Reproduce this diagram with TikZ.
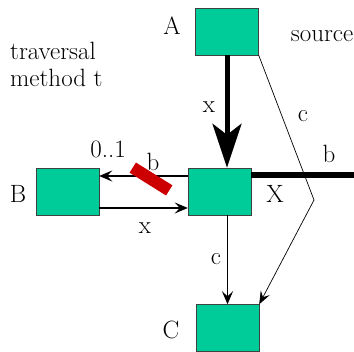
\documentclass[tikz,border=0pt]{standalone}
\usetikzlibrary{arrows.meta,calc}
\definecolor{boxgreen}{RGB}{0,204,153}
\definecolor{cutred}{RGB}{204,0,0}
\tikzset{
  box/.style={draw=black!75,fill=boxgreen,minimum width=63pt,minimum height=47pt,inner sep=0pt},
  cutbar/.style={fill=cutred,minimum width=43pt,minimum height=12pt,inner sep=0pt},
  edge/.style={-{Stealth[length=13pt,width=11pt,inset=5pt]},line width=1.7pt},
  bigedge/.style={-{Stealth[length=44pt,width=29pt,inset=11pt]},line width=5pt},
  bedge/.style={line width=6.5pt},
  cedge/.style={-{Stealth[length=13pt,width=10pt,inset=5pt]},line width=0.7pt},
  lbl/.style={inner sep=0pt},
  every node/.style={font=\fontsize{25}{27}\selectfont}
}
\begin{document}
\begin{tikzpicture}[x=1pt,y=-1pt]
\useasboundingbox (0,0) rectangle (354,352);
% classes
\node[box] (A) at (227,31.5) {};
\node[box] (X) at (219.5,191.5) {};
\node[box] (B) at (67.5,191.5) {};
\node[box] (C) at (227.5,328) {};
\node[lbl] (Alab) at (172,26) {A};
\node[lbl] (Xlab) at (275,194) {X};
\node[lbl] (Blab) at (18,194) {B};
\node[lbl] (Clab) at (171,330) {C};
\node[lbl] (src) at (322,36) {source};
\node[lbl,anchor=west,align=left] (title) at (10,64) {traversal\\method t};
% x from A to X
\draw[bigedge] (A.south) -- (A.south |- X.north);
\node[lbl] (xa) at (209,107) {x};
% b to the right
\coordinate (bend) at (354,175);
\draw[bedge] ([yshift=16.5pt]X.east) -- (bend);
\node[lbl] (bb) at (329,154) {b};
% c from A to C
\coordinate (kink) at (314,200);
\draw[cedge] (A.south east) -- (kink) -- (C.north east);
\node[lbl] (cr) at (303,116) {c};
% b from X to B, cut
\draw[edge] ([yshift=15.5pt]X.west) -- ([yshift=15.5pt]B.east);
\node[cutbar,rotate=-32] (cut) at (151,179) {};
\node[lbl] (bcut) at (153,162) {b};
\node[lbl] (card) at (108,149) {0..1};
% x from B to X
\draw[edge] ([yshift=-16.5pt]B.east) -- ([yshift=-16.5pt]X.west);
\node[lbl] (xb) at (145,228) {x};
% c from X to C
\draw[edge] (C.north |- X.south) -- (C.north);
\node[lbl] (cx) at (216,259) {c};
\end{tikzpicture}
\end{document}
